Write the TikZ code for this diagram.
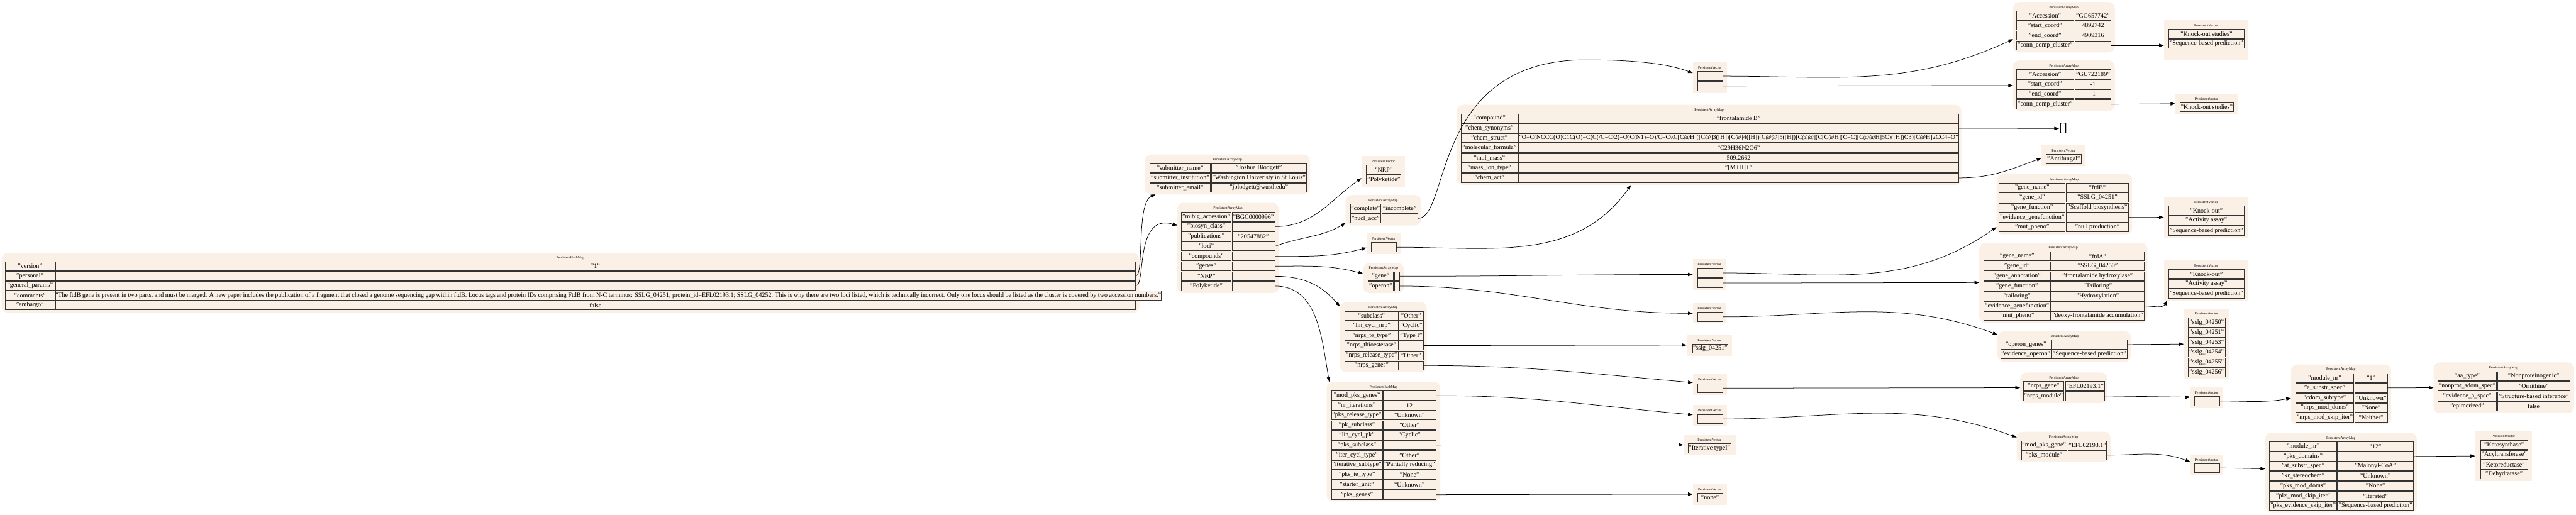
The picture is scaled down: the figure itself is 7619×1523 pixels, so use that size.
\documentclass[tikz,border=0pt]{standalone}
\usepackage{fontspec}
\setmainfont{Liberation Serif}
\usepackage{tikz}
\usetikzlibrary{arrows.meta,positioning,fit}
\definecolor{mapfill}{HTML}{FAF0E6}
\definecolor{cellline}{HTML}{333333}
\newcommand{\cellfont}{\fontsize{18.7}{22}\selectfont}
\newcommand{\hdrfont}{\fontsize{10.7}{12}\selectfont}

\begin{document}
\begin{tikzpicture}[x=1pt, y=-1pt]
	\tikzstyle{MapBg}	= [fill=mapfill, rounded corners=18pt, inner sep=0pt]
	\tikzstyle{VecBg}	= [fill=mapfill, inner sep=0pt]
	\tikzstyle{Hdr}		= [font=\hdrfont, inner sep=0pt]
	\tikzstyle{Cell}	= [draw=cellline, line width=1.5pt, fill=mapfill, anchor=north west, inner sep=0pt, minimum height=27pt, font=\cellfont]
	\tikzstyle{Edge}	= [line width=1.4pt, -{Triangle[length=14pt, width=10pt]}]
	\useasboundingbox (0,0) rectangle (7619,1523);

	% root map
	\node (root) [MapBg, fit={(5,748) (3370,925)}] {};
	\node (root-h) at (1687, 763) [Hdr] {PersistentHashMap};
	\node (root-k1) at (15, 773) [Cell, minimum width=146pt] {"version"};
	\node (root-v1) at (163, 773) [Cell, minimum width=3195pt] {"1"};
	\node (root-k2) at (15, 802) [Cell, minimum width=146pt] {"personal"};
	\node (root-v2) at (163, 802) [Cell, minimum width=3195pt] {};
	\node (root-k3) at (15, 831) [Cell, minimum width=146pt] {"general\_params"};
	\node (root-v3) at (163, 831) [Cell, minimum width=3195pt] {};
	\node (root-k4) at (15, 860) [Cell, minimum width=146pt] {"comments"};
	\node (root-v4) at (163, 860) [Cell, minimum width=3195pt] {"The ftdB gene is present in two parts, and must be merged. A new paper includes the publication of a fragment that closed a genome sequencing gap within ftdB. Locus tags and protein IDs comprising FtdB from N-C terminus: SSLG\_04251, protein\_id=EFL02193.1; SSLG\_04252. This is why there are two loci listed, which is technically incorrect. Only one locus should be listed as the cluster is covered by two accession numbers."};
	\node (root-k5) at (15, 889) [Cell, minimum width=146pt] {"embargo"};
	\node (root-v5) at (163, 889) [Cell, minimum width=3195pt] {false};

	% submitter
	\node (subm) [MapBg, fit={(3386,457) (3874,575)}] {};
	\node (subm-h) at (3630, 473) [Hdr] {PersistentArrayMap};
	\node (subm-k1) at (3400, 483) [Cell, minimum width=179pt] {"submitter\_name"};
	\node (subm-v1) at (3582, 483) [Cell, minimum width=281pt] {"Joshua Blodgett"};
	\node (subm-k2) at (3400, 512) [Cell, minimum width=179pt] {"submitter\_institution"};
	\node (subm-v2) at (3582, 512) [Cell, minimum width=281pt] {"Washington Univeristy in St Louis"};
	\node (subm-k3) at (3400, 541) [Cell, minimum width=179pt] {"submitter\_email"};
	\node (subm-v3) at (3582, 541) [Cell, minimum width=281pt] {"jblodgett@wustl.edu"};

	% general params
	\node (entry) [MapBg, fit={(3482,600) (3782,867)}] {};
	\node (entry-h) at (3632, 617) [Hdr] {PersistentArrayMap};
	\node (entry-k1) at (3494, 627) [Cell, minimum width=146pt] {"mibig\_accession"};
	\node (entry-v1) at (3643, 627) [Cell, minimum width=127pt] {"BGC0000996"};
	\node (entry-k2) at (3494, 656) [Cell, minimum width=146pt] {"biosyn\_class"};
	\node (entry-v2) at (3643, 656) [Cell, minimum width=127pt] {};
	\node (entry-k3) at (3494, 685) [Cell, minimum width=146pt] {"publications"};
	\node (entry-v3) at (3643, 685) [Cell, minimum width=127pt] {"20547882"};
	\node (entry-k4) at (3494, 714) [Cell, minimum width=146pt] {"loci"};
	\node (entry-v4) at (3643, 714) [Cell, minimum width=127pt] {};
	\node (entry-k5) at (3494, 744) [Cell, minimum width=146pt] {"compounds"};
	\node (entry-v5) at (3643, 744) [Cell, minimum width=127pt] {};
	\node (entry-k6) at (3494, 773) [Cell, minimum width=146pt] {"genes"};
	\node (entry-v6) at (3643, 773) [Cell, minimum width=127pt] {};
	\node (entry-k7) at (3494, 803) [Cell, minimum width=146pt] {"NRP"};
	\node (entry-v7) at (3643, 803) [Cell, minimum width=127pt] {};
	\node (entry-k8) at (3494, 832) [Cell, minimum width=146pt] {"Polyketide"};
	\node (entry-v8) at (3643, 832) [Cell, minimum width=127pt] {};

	% biosyn class
	\node (bclass) [VecBg, fit={(4027,462) (4156,552)}] {};
	\node (bclass-h) at (4091, 478) [Hdr] {PersistentVector};
	\node (bclass-c1) at (4041, 488) [Cell, minimum width=102pt] {"NRP"};
	\node (bclass-c2) at (4041, 517) [Cell, minimum width=102pt] {"Polyketide"};

	% loci
	\node (loci) [MapBg, fit={(3980,577) (4203,667)}] {};
	\node (loci-h) at (4091, 593) [Hdr] {PersistentArrayMap};
	\node (loci-k1) at (3993, 603) [Cell, minimum width=90pt] {"complete"};
	\node (loci-v1) at (4086, 603) [Cell, minimum width=106pt] {"incomplete"};
	\node (loci-k2) at (3993, 632) [Cell, minimum width=90pt] {"nucl\_acc"};
	\node (loci-v2) at (4086, 632) [Cell, minimum width=106pt] {};

	\node (cvec) [VecBg, fit={(4042,691) (4142,752)}] {};
	\node (cvec-h) at (4092, 707) [Hdr] {PersistentVector};
	\node (cvec-c1) at (4055, 717) [Cell, minimum width=74pt] {};

	\node (genes) [MapBg, fit={(4032,778) (4152,867)}] {};
	\node (genes-h) at (4092, 793) [Hdr] {PersistentArrayMap};
	\node (genes-k1) at (4045, 803) [Cell, minimum width=76pt] {"gene"};
	\node (genes-v1) at (4124, 803) [Cell, minimum width=15pt] {};
	\node (genes-k2) at (4045, 832) [Cell, minimum width=76pt] {"operon"};
	\node (genes-v2) at (4124, 832) [Cell, minimum width=15pt] {};

	% NRP
	\node (nrp) [MapBg, fit={(3963,894) (4220,1101)}] {};
	\node (nrp-h) at (4091, 910) [Hdr] {PersistentArrayMap};
	\node (nrp-k1) at (3977, 920) [Cell, minimum width=158pt] {"subclass"};
	\node (nrp-v1) at (4137, 920) [Cell, minimum width=72pt] {"Other"};
	\node (nrp-k2) at (3977, 949) [Cell, minimum width=158pt] {"lin\_cycl\_nrp"};
	\node (nrp-v2) at (4137, 949) [Cell, minimum width=72pt] {"Cyclic"};
	\node (nrp-k3) at (3977, 979) [Cell, minimum width=158pt] {"nrps\_te\_type"};
	\node (nrp-v3) at (4137, 979) [Cell, minimum width=72pt] {"Type I"};
	\node (nrp-k4) at (3977, 1008) [Cell, minimum width=158pt] {"nrps\_thioesterase"};
	\node (nrp-v4) at (4137, 1008) [Cell, minimum width=72pt] {};
	\node (nrp-k5) at (3977, 1037) [Cell, minimum width=158pt] {"nrps\_release\_type"};
	\node (nrp-v5) at (4137, 1037) [Cell, minimum width=72pt] {"Other"};
	\node (nrp-k6) at (3977, 1067) [Cell, minimum width=158pt] {"nrps\_genes"};
	\node (nrp-v6) at (4137, 1067) [Cell, minimum width=72pt] {};

	% Polyketide
	\node (pks) [MapBg, fit={(3924,1130) (4260,1483)}] {};
	\node (pks-h) at (4092, 1146) [Hdr] {PersistentHashMap};
	\node (pks-k1) at (3937, 1156) [Cell, minimum width=151pt] {"mod\_pks\_genes"};
	\node (pks-v1) at (4090, 1156) [Cell, minimum width=156pt] {};
	\node (pks-k2) at (3937, 1185) [Cell, minimum width=151pt] {"nr\_iterations"};
	\node (pks-v2) at (4090, 1185) [Cell, minimum width=156pt] {12};
	\node (pks-k3) at (3937, 1214) [Cell, minimum width=151pt] {"pks\_release\_type"};
	\node (pks-v3) at (4090, 1214) [Cell, minimum width=156pt] {"Unknown"};
	\node (pks-k4) at (3937, 1244) [Cell, minimum width=151pt] {"pk\_subclass"};
	\node (pks-v4) at (4090, 1244) [Cell, minimum width=156pt] {"Other"};
	\node (pks-k5) at (3937, 1273) [Cell, minimum width=151pt] {"lin\_cycl\_pk"};
	\node (pks-v5) at (4090, 1273) [Cell, minimum width=156pt] {"Cyclic"};
	\node (pks-k6) at (3937, 1302) [Cell, minimum width=151pt] {"pks\_subclass"};
	\node (pks-v6) at (4090, 1302) [Cell, minimum width=156pt] {};
	\node (pks-k7) at (3937, 1332) [Cell, minimum width=151pt] {"iter\_cycl\_type"};
	\node (pks-v7) at (4090, 1332) [Cell, minimum width=156pt] {"Other"};
	\node (pks-k8) at (3937, 1361) [Cell, minimum width=151pt] {"iterative\_subtype"};
	\node (pks-v8) at (4090, 1361) [Cell, minimum width=156pt] {"Partially reducing"};
	\node (pks-k9) at (3937, 1390) [Cell, minimum width=151pt] {"pks\_te\_type"};
	\node (pks-v9) at (4090, 1390) [Cell, minimum width=156pt] {"None"};
	\node (pks-k10) at (3937, 1420) [Cell, minimum width=151pt] {"starter\_unit"};
	\node (pks-v10) at (4090, 1420) [Cell, minimum width=156pt] {"Unknown"};
	\node (pks-k11) at (3937, 1449) [Cell, minimum width=151pt] {"pks\_genes"};
	\node (pks-v11) at (4090, 1449) [Cell, minimum width=156pt] {};

	% compound
	\node (cmpd) [MapBg, fit={(4309,310) (5801,547)}] {};
	\node (cmpd-h) at (5055, 326) [Hdr] {PersistentArrayMap};
	\node (cmpd-k1) at (4321, 336) [Cell, minimum width=167pt] {"compound"};
	\node (cmpd-v1) at (4490, 336) [Cell, minimum width=1303pt] {"frontalamide B"};
	\node (cmpd-k2) at (4321, 365) [Cell, minimum width=167pt] {"chem\_synonyms"};
	\node (cmpd-v2) at (4490, 365) [Cell, minimum width=1303pt] {};
	\node (cmpd-k3) at (4321, 394) [Cell, minimum width=167pt] {"chem\_struct"};
	\node (cmpd-v3) at (4490, 394) [Cell, minimum width=1303pt] {"O=C(NCCC(O)C1C(O)=C(C(/C=C/2)=O)C(N1)=O)/C=C\textbackslash\textbackslash C[C@H]([C@]3([H])[C@]4([H])[C@@]5([H])[C@@](C[C@H](C=C)[C@@H]5C)([H])C3)[C@H]2CC4=O"};
	\node (cmpd-k4) at (4321, 423) [Cell, minimum width=167pt] {"molecular\_formula"};
	\node (cmpd-v4) at (4490, 423) [Cell, minimum width=1303pt] {"C29H36N2O6"};
	\node (cmpd-k5) at (4321, 453) [Cell, minimum width=167pt] {"mol\_mass"};
	\node (cmpd-v5) at (4490, 453) [Cell, minimum width=1303pt] {509.2662};
	\node (cmpd-k6) at (4321, 482) [Cell, minimum width=167pt] {"mass\_ion\_type"};
	\node (cmpd-v6) at (4490, 482) [Cell, minimum width=1303pt] {"[M+H]+"};
	\node (cmpd-k7) at (4321, 512) [Cell, minimum width=167pt] {"chem\_act"};
	\node (cmpd-v7) at (4490, 512) [Cell, minimum width=1303pt] {};

	\node (nosyn) at (6102, 380) [font=\fontsize{36}{40}\selectfont, inner sep=0pt] {[]};

	\node (actvec) [VecBg, fit={(6038,430) (6168,491)}] {};
	\node (actvec-h) at (6103, 446) [Hdr] {PersistentVector};
	\node (actvec-c1) at (6051, 456) [Cell, minimum width=104pt] {"Antifungal"};

	% nucl_acc
	\node (locvec) [VecBg, fit={(5007,184) (5107,275)}] {};
	\node (locvec-h) at (5057, 201) [Hdr] {PersistentVector};
	\node (locvec-c1) at (5021, 211) [Cell, minimum width=73pt] {};
	\node (locvec-c2) at (5021, 240) [Cell, minimum width=73pt] {};

	\node (acc1) [MapBg, fit={(5954,6) (6255,155)}] {};
	\node (acc1-h) at (6104, 22) [Hdr] {PersistentArrayMap};
	\node (acc1-k1) at (5964, 32) [Cell, minimum width=168pt] {"Accession"};
	\node (acc1-v1) at (6137, 32) [Cell, minimum width=105pt] {"GG657742"};
	\node (acc1-k2) at (5964, 61) [Cell, minimum width=168pt] {"start\_coord"};
	\node (acc1-v2) at (6137, 61) [Cell, minimum width=105pt] {4892742};
	\node (acc1-k3) at (5964, 91) [Cell, minimum width=168pt] {"end\_coord"};
	\node (acc1-v3) at (6137, 91) [Cell, minimum width=105pt] {4909316};
	\node (acc1-k4) at (5964, 120) [Cell, minimum width=168pt] {"conn\_comp\_cluster"};
	\node (acc1-v4) at (6137, 120) [Cell, minimum width=105pt] {};

	\node (acc2) [MapBg, fit={(5954,179) (6255,328)}] {};
	\node (acc2-h) at (6104, 196) [Hdr] {PersistentArrayMap};
	\node (acc2-k1) at (5964, 205) [Cell, minimum width=168pt] {"Accession"};
	\node (acc2-v1) at (6137, 205) [Cell, minimum width=105pt] {"GU722189"};
	\node (acc2-k2) at (5964, 235) [Cell, minimum width=168pt] {"start\_coord"};
	\node (acc2-v2) at (6137, 235) [Cell, minimum width=105pt] {-1};
	\node (acc2-k3) at (5964, 264) [Cell, minimum width=168pt] {"end\_coord"};
	\node (acc2-v3) at (6137, 264) [Cell, minimum width=105pt] {-1};
	\node (acc2-k4) at (5964, 294) [Cell, minimum width=168pt] {"conn\_comp\_cluster"};
	\node (acc2-v4) at (6137, 294) [Cell, minimum width=105pt] {};

	\node (ko1) [VecBg, fit={(6400,60) (6650,178)}] {};
	\node (ko1-h) at (6525, 76) [Hdr] {PersistentVector};
	\node (ko1-c1) at (6414, 86) [Cell, minimum width=222pt] {"Knock-out studies"};
	\node (ko1-c2) at (6414, 115) [Cell, minimum width=222pt] {"Sequence-based prediction"};

	\node (ko2) [VecBg, fit={(6434,277) (6618,338)}] {};
	\node (ko2-h) at (6526, 293) [Hdr] {PersistentVector};
	\node (ko2-c1) at (6447, 303) [Cell, minimum width=158pt] {"Knock-out studies"};

	% genes
	\node (genevec) [VecBg, fit={(5007,767) (5106,857)}] {};
	\node (genevec-h) at (5056, 783) [Hdr] {PersistentVector};
	\node (genevec-c1) at (5020, 793) [Cell, minimum width=74pt] {};
	\node (genevec-c2) at (5020, 823) [Cell, minimum width=74pt] {};

	\node (ftdb) [MapBg, fit={(5905,515) (6306,693)}] {};
	\node (ftdb-h) at (6105, 532) [Hdr] {PersistentArrayMap};
	\node (ftdb-k1) at (5912, 541) [Cell, minimum width=195pt] {"gene\_name"};
	\node (ftdb-v1) at (6111, 541) [Cell, minimum width=183pt] {"ftdB"};
	\node (ftdb-k2) at (5912, 570) [Cell, minimum width=195pt] {"gene\_id"};
	\node (ftdb-v2) at (6111, 570) [Cell, minimum width=183pt] {"SSLG\_04251"};
	\node (ftdb-k3) at (5912, 600) [Cell, minimum width=195pt] {"gene\_function"};
	\node (ftdb-v3) at (6111, 600) [Cell, minimum width=183pt] {"Scaffold biosynthesis"};
	\node (ftdb-k4) at (5912, 629) [Cell, minimum width=195pt] {"evidence\_genefunction"};
	\node (ftdb-v4) at (6111, 629) [Cell, minimum width=183pt] {};
	\node (ftdb-k5) at (5912, 658) [Cell, minimum width=195pt] {"mut\_pheno"};
	\node (ftdb-v5) at (6111, 658) [Cell, minimum width=183pt] {"null production"};

	\node (kob) [VecBg, fit={(6400,583) (6650,703)}] {};
	\node (kob-h) at (6525, 599) [Hdr] {PersistentVector};
	\node (kob-c1) at (6414, 609) [Cell, minimum width=222pt] {"Knock-out"};
	\node (kob-c2) at (6414, 638) [Cell, minimum width=222pt] {"Activity assay"};
	\node (kob-c3) at (6414, 668) [Cell, minimum width=222pt] {"Sequence-based prediction"};

	\node (ftda) [MapBg, fit={(5854,718) (6351,955)}] {};
	\node (ftda-h) at (6102, 734) [Hdr] {PersistentArrayMap};
	\node (ftda-k1) at (5867, 744) [Cell, minimum width=196pt] {"gene\_name"};
	\node (ftda-v1) at (6066, 744) [Cell, minimum width=275pt] {"ftdA"};
	\node (ftda-k2) at (5867, 773) [Cell, minimum width=196pt] {"gene\_id"};
	\node (ftda-v2) at (6066, 773) [Cell, minimum width=275pt] {"SSLG\_04250"};
	\node (ftda-k3) at (5867, 803) [Cell, minimum width=196pt] {"gene\_annotation"};
	\node (ftda-v3) at (6066, 803) [Cell, minimum width=275pt] {"frontalamide hydroxylase"};
	\node (ftda-k4) at (5867, 832) [Cell, minimum width=196pt] {"gene\_function"};
	\node (ftda-v4) at (6066, 832) [Cell, minimum width=275pt] {"Tailoring"};
	\node (ftda-k5) at (5867, 862) [Cell, minimum width=196pt] {"tailoring"};
	\node (ftda-v5) at (6066, 862) [Cell, minimum width=275pt] {"Hydroxylation"};
	\node (ftda-k6) at (5867, 891) [Cell, minimum width=196pt] {"evidence\_genefunction"};
	\node (ftda-v6) at (6066, 891) [Cell, minimum width=275pt] {};
	\node (ftda-k7) at (5867, 920) [Cell, minimum width=196pt] {"mut\_pheno"};
	\node (ftda-v7) at (6066, 920) [Cell, minimum width=275pt] {"deoxy-frontalamide accumulation"};

	\node (koa) [VecBg, fit={(6400,770) (6650,889)}] {};
	\node (koa-h) at (6525, 786) [Hdr] {PersistentVector};
	\node (koa-c1) at (6414, 796) [Cell, minimum width=222pt] {"Knock-out"};
	\node (koa-c2) at (6414, 825) [Cell, minimum width=222pt] {"Activity assay"};
	\node (koa-c3) at (6414, 854) [Cell, minimum width=222pt] {"Sequence-based prediction"};

	% operon
	\node (opvec) [VecBg, fit={(5007,897) (5106,957)}] {};
	\node (opvec-h) at (5056, 913) [Hdr] {PersistentVector};
	\node (opvec-c1) at (5020, 923) [Cell, minimum width=74pt] {};

	\node (operon) [MapBg, fit={(5908,980) (6303,1070)}] {};
	\node (operon-h) at (6105, 996) [Hdr] {PersistentArrayMap};
	\node (operon-k1) at (5917, 1005) [Cell, minimum width=148pt] {"operon\_genes"};
	\node (operon-v1) at (6068, 1005) [Cell, minimum width=222pt] {};
	\node (operon-k2) at (5917, 1034) [Cell, minimum width=148pt] {"evidence\_operon"};
	\node (operon-v2) at (6068, 1034) [Cell, minimum width=222pt] {"Sequence-based prediction"};

	\node (sslg) [VecBg, fit={(6459,914) (6593,1122)}] {};
	\node (sslg-h) at (6526, 928) [Hdr] {PersistentVector};
	\node (sslg-c1) at (6471, 940) [Cell, minimum width=110pt] {"sslg\_04250"};
	\node (sslg-c2) at (6471, 970) [Cell, minimum width=110pt] {"sslg\_04251"};
	\node (sslg-c3) at (6471, 999) [Cell, minimum width=110pt] {"sslg\_04253"};
	\node (sslg-c4) at (6471, 1028) [Cell, minimum width=110pt] {"sslg\_04254"};
	\node (sslg-c5) at (6471, 1058) [Cell, minimum width=110pt] {"sslg\_04255"};
	\node (sslg-c6) at (6471, 1087) [Cell, minimum width=110pt] {"sslg\_04256"};

	% NRP children
	\node (thio) [VecBg, fit={(4989,991) (5123,1052)}] {};
	\node (thio-h) at (5056, 1008) [Hdr] {PersistentVector};
	\node (thio-c1) at (5005, 1017) [Cell, minimum width=105pt] {"sslg\_04251"};

	\node (nrpsvec) [VecBg, fit={(5007,1107) (5107,1168)}] {};
	\node (nrpsvec-h) at (5057, 1123) [Hdr] {PersistentVector};
	\node (nrpsvec-c1) at (5020, 1134) [Cell, minimum width=74pt] {};

	\node (nrpsg) [MapBg, fit={(5975,1102) (6233,1192)}] {};
	\node (nrpsg-h) at (6104, 1118) [Hdr] {PersistentArrayMap};
	\node (nrpsg-k1) at (5984, 1128) [Cell, minimum width=119pt] {"nrps\_gene"};
	\node (nrpsg-v1) at (6108, 1128) [Cell, minimum width=115pt] {"EFL02193.1"};
	\node (nrpsg-k2) at (5984, 1157) [Cell, minimum width=119pt] {"nrps\_module"};
	\node (nrpsg-v2) at (6108, 1157) [Cell, minimum width=115pt] {};

	\node (nmodvec) [VecBg, fit={(6478,1146) (6575,1207)}] {};
	\node (nmodvec-h) at (6526, 1162) [Hdr] {PersistentVector};
	\node (nmodvec-c1) at (6489, 1172) [Cell, minimum width=76pt] {};

	\node (nmod) [MapBg, fit={(6776,1078) (7072,1256)}] {};
	\node (nmod-h) at (6924, 1093) [Hdr] {PersistentArrayMap};
	\node (nmod-k1) at (6789, 1104) [Cell, minimum width=172pt] {"module\_nr"};
	\node (nmod-v1) at (6964, 1104) [Cell, minimum width=96pt] {"1"};
	\node (nmod-k2) at (6789, 1133) [Cell, minimum width=172pt] {"a\_substr\_spec"};
	\node (nmod-v2) at (6964, 1133) [Cell, minimum width=96pt] {};
	\node (nmod-k3) at (6789, 1163) [Cell, minimum width=172pt] {"cdom\_subtype"};
	\node (nmod-v3) at (6964, 1163) [Cell, minimum width=96pt] {"Unknown"};
	\node (nmod-k4) at (6789, 1192) [Cell, minimum width=172pt] {"nrps\_mod\_doms"};
	\node (nmod-v4) at (6964, 1192) [Cell, minimum width=96pt] {"None"};
	\node (nmod-k5) at (6789, 1221) [Cell, minimum width=172pt] {"nrps\_mod\_skip\_iter"};
	\node (nmod-v5) at (6964, 1221) [Cell, minimum width=96pt] {"Neither"};

	\node (aa) [MapBg, fit={(7198,1072) (7613,1222)}] {};
	\node (aa-h) at (7405, 1088) [Hdr] {PersistentArrayMap};
	\node (aa-k1) at (7210, 1099) [Cell, minimum width=173pt] {"aa\_type"};
	\node (aa-v1) at (7386, 1099) [Cell, minimum width=214pt] {"Nonproteinogenic"};
	\node (aa-k2) at (7210, 1128) [Cell, minimum width=173pt] {"nonprot\_adom\_spec"};
	\node (aa-v2) at (7386, 1128) [Cell, minimum width=214pt] {"Ornithine"};
	\node (aa-k3) at (7210, 1158) [Cell, minimum width=173pt] {"evidence\_a\_spec"};
	\node (aa-v3) at (7386, 1158) [Cell, minimum width=214pt] {"Structure-based inference"};
	\node (aa-k4) at (7210, 1187) [Cell, minimum width=173pt] {"epimerized"};
	\node (aa-v4) at (7386, 1187) [Cell, minimum width=214pt] {false};

	% Polyketide children
	\node (mpksvec) [VecBg, fit={(5007,1198) (5107,1259)}] {};
	\node (mpksvec-h) at (5057, 1214) [Hdr] {PersistentVector};
	\node (mpksvec-c1) at (5020, 1225) [Cell, minimum width=74pt] {};

	\node (pksg) [MapBg, fit={(5965,1277) (6242,1366)}] {};
	\node (pksg-h) at (6103, 1293) [Hdr] {PersistentArrayMap};
	\node (pksg-k1) at (5978, 1303) [Cell, minimum width=134pt] {"mod\_pks\_gene"};
	\node (pksg-v1) at (6116, 1303) [Cell, minimum width=114pt] {"EFL02193.1"};
	\node (pksg-k2) at (5978, 1332) [Cell, minimum width=134pt] {"pks\_module"};
	\node (pksg-v2) at (6116, 1332) [Cell, minimum width=114pt] {};

	\node (pmodvec) [VecBg, fit={(6478,1344) (6575,1405)}] {};
	\node (pmodvec-h) at (6526, 1360) [Hdr] {PersistentVector};
	\node (pmodvec-c1) at (6489, 1370) [Cell, minimum width=76pt] {};

	\node (pmod) [MapBg, fit={(6700,1280) (7148,1517)}] {};
	\node (pmod-h) at (6924, 1297) [Hdr] {PersistentArrayMap};
	\node (pmod-k1) at (6712, 1306) [Cell, minimum width=198pt] {"module\_nr"};
	\node (pmod-v1) at (6913, 1306) [Cell, minimum width=224pt] {"12"};
	\node (pmod-k2) at (6712, 1336) [Cell, minimum width=198pt] {"pks\_domains"};
	\node (pmod-v2) at (6913, 1336) [Cell, minimum width=224pt] {};
	\node (pmod-k3) at (6712, 1365) [Cell, minimum width=198pt] {"at\_substr\_spec"};
	\node (pmod-v3) at (6913, 1365) [Cell, minimum width=224pt] {"Malonyl-CoA"};
	\node (pmod-k4) at (6712, 1394) [Cell, minimum width=198pt] {"kr\_stereochem"};
	\node (pmod-v4) at (6913, 1394) [Cell, minimum width=224pt] {"Unknown"};
	\node (pmod-k5) at (6712, 1423) [Cell, minimum width=198pt] {"pks\_mod\_doms"};
	\node (pmod-v5) at (6913, 1423) [Cell, minimum width=224pt] {"None"};
	\node (pmod-k6) at (6712, 1453) [Cell, minimum width=198pt] {"pks\_mod\_skip\_iter"};
	\node (pmod-v6) at (6913, 1453) [Cell, minimum width=224pt] {"Iterated"};
	\node (pmod-k7) at (6712, 1482) [Cell, minimum width=198pt] {"pks\_evidence\_skip\_iter"};
	\node (pmod-v7) at (6913, 1482) [Cell, minimum width=224pt] {"Sequence-based prediction"};

	\node (doms) [VecBg, fit={(7321,1275) (7488,1423)}] {};
	\node (doms-h) at (7404, 1291) [Hdr] {PersistentVector};
	\node (doms-c1) at (7336, 1302) [Cell, minimum width=139pt] {"Ketosynthase"};
	\node (doms-c2) at (7336, 1331) [Cell, minimum width=139pt] {"Acyltransferase"};
	\node (doms-c3) at (7336, 1360) [Cell, minimum width=139pt] {"Ketoreductase"};
	\node (doms-c4) at (7336, 1389) [Cell, minimum width=139pt] {"Dehydratase"};

	\node (pksub) [VecBg, fit={(4979,1286) (5133,1347)}] {};
	\node (pksub-h) at (5056, 1302) [Hdr] {PersistentVector};
	\node (pksub-c1) at (4992, 1312) [Cell, minimum width=127pt] {"Iterative typeI"};

	\node (pksnone) [VecBg, fit={(5007,1433) (5107,1493)}] {};
	\node (pksnone-h) at (5057, 1448) [Hdr] {PersistentVector};
	\node (pksnone-c1) at (5020, 1458) [Cell, minimum width=74pt] {"none"};

	% connectors
	\draw (root-v2.east) .. controls (3385, 816) and (3360, 600) .. ([xshift=32pt]subm.south west) [Edge];
	\draw (root-v3.east) .. controls (3390, 845) and (3355, 630) .. ([yshift=-67pt]entry.north west) [Edge];
	\draw (entry-v2.east) to [out=0, in=215] ([yshift=-65pt]bclass.north west) [Edge];
	\draw (entry-v4.east) to [out=20, in=210] ([yshift=-83pt]loci.north west) [Edge];
	\draw (entry-v5.east) to [out=0, in=195] ([yshift=-42pt]cvec.north west) [Edge];
	\draw (entry-v6.east) to [out=0, in=165] ([yshift=-32pt]genes.north west) [Edge];
	\draw (entry-v7.east) to [out=0, in=130] ([yshift=-13pt]nrp.north west) [Edge];
	\draw (entry-v8.east) to [out=0, in=100] ([xshift=8pt]pks.north west) [Edge];
	\draw (loci-v2.east) .. controls (4290, 645) and (4230, 177) .. (4690, 177) .. controls (4870, 177) and (4950, 195) .. ([yshift=-32pt]locvec.north west) [Edge];
	\draw (cvec-c1.east) to [out=0, in=235] ([xshift=515pt]cmpd.south west) [Edge];
	\draw (genes-v1.east) to [out=0, in=180] ([yshift=-45pt]genevec.north west) [Edge];
	\draw (genes-v2.east) to [out=0, in=180] ([yshift=-30pt]opvec.north west) [Edge];
	\draw (nrp-v4.east) to ([yshift=-30pt]thio.north west) [Edge];
	\draw (nrp-v6.east) to [out=0, in=175] ([yshift=-25pt]nrpsvec.north west) [Edge];
	\draw (pks-v1.east) to [out=0, in=175] ([yshift=-29pt]mpksvec.north west) [Edge];
	\draw (pks-v6.east) to ([yshift=-30pt]pksub.north west) [Edge];
	\draw (pks-v11.east) to ([yshift=-29pt]pksnone.north west) [Edge];
	\draw (locvec-c1.east) to [out=0, in=205] ([yshift=-110pt]acc1.north west) [Edge];
	\draw (locvec-c2.east) to ([yshift=-74pt]acc2.north west) [Edge];
	\draw (acc1-v4.east) to (ko1.west |- acc1-v4.east) [Edge];
	\draw (acc2-v4.east) to ([yshift=-30pt]ko2.north west) [Edge];
	\draw (cmpd-v2.east) to (nosyn.west) [Edge];
	\draw (cmpd-v7.east) to [out=0, in=200] ([yshift=-38pt]actvec.north west) [Edge];
	\draw (genevec-c1.east) to [out=0, in=215] ([yshift=-157pt]ftdb.north west) [Edge];
	\draw (genevec-c2.east) to ([yshift=-118pt]ftda.north west) [Edge];
	\draw (ftdb-v4.east) to ([yshift=-60pt]kob.north west) [Edge];
	\draw (ftda-v6.east) to [out=0, in=240] ([xshift=10pt]koa.south west) [Edge];
	\draw (opvec-c1.east) to [out=0, in=160] ([yshift=-10pt]operon.north west) [Edge];
	\draw (operon-v1.east) to ([yshift=-104pt]sslg.north west) [Edge];
	\draw (nrpsvec-c1.east) to ([yshift=-45pt]nrpsg.north west) [Edge];
	\draw (nrpsg-v2.east) to ([yshift=-29pt]nmodvec.north west) [Edge];
	\draw (nmodvec-c1.east) to [out=0, in=190] ([yshift=-100pt]nmod.north west) [Edge];
	\draw (nmod-v2.east) to ([yshift=-75pt]aa.north west) [Edge];
	\draw (mpksvec-c1.east) to [out=0, in=160] ([yshift=-17pt]pksg.north west) [Edge];
	\draw (pksg-v2.east) to [out=0, in=160] ([yshift=-22pt]pmodvec.north west) [Edge];
	\draw (pmodvec-c1.east) to ([yshift=-107pt]pmod.north west) [Edge];
	\draw (pmod-v2.east) to ([yshift=-74pt]doms.north west) [Edge];
\end{tikzpicture}
\end{document}
